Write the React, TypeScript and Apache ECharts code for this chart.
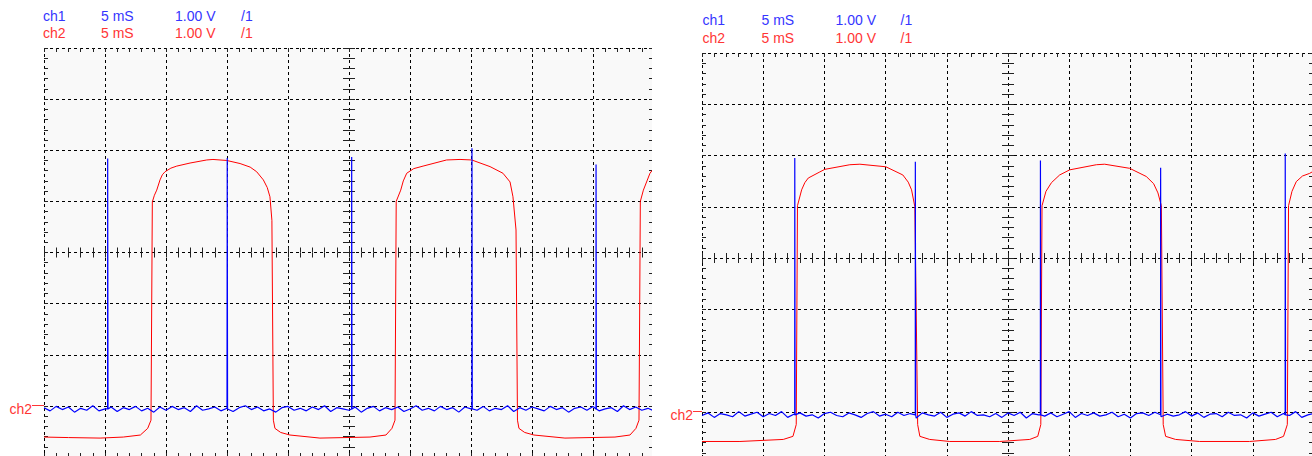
import React, { useEffect, useRef } from 'react';
import * as echarts from 'echarts';

// Header texts (channel, time base, volts/div, probe)
const HEADER_CH1 = ['ch1', '5 mS', '1.00 V', '/1'];
const HEADER_CH2 = ['ch2', '5 mS', '1.00 V', '/1'];
const MARKER_LABEL = 'ch2';

// Axis ranges: time in ms (10 div x 5 ms), volts (8 div x 1 V)
const T_MIN = 0;
const T_MAX = 50;
const T_DIV = 5;
const V_MIN = -4;
const V_MAX = 4;
const V_DIV = 1;

// ch2 (red) traces: [ms, V]
const LEFT_RED: number[][] = [
  [0, -3.61], [2, -3.62], [4.6, -3.63], [6.5, -3.61], [7.9, -3.57], [8.5, -3.44], [8.77, -3.28],
  [8.88, 0.99], [9.05, 1.12], [9.24, 1.22], [9.51, 1.42], [9.7, 1.52], [9.92, 1.58], [10.4, 1.65],
  [10.88, 1.69], [11.97, 1.75], [13.34, 1.81], [13.85, 1.82], [14.98, 1.8], [16.07, 1.74],
  [16.9, 1.67], [17.43, 1.58], [17.98, 1.42], [18.3, 1.27], [18.52, 1.09], [18.68, 0.63],
  [18.8, -3.28], [18.93, -3.44], [19.4, -3.52], [20.16, -3.57], [22.62, -3.63],
  [26.72, -3.61], [28.03, -3.57], [28.52, -3.44], [28.77, -3.28], [28.87, 1.0], [29.24, 1.22],
  [29.45, 1.4], [29.73, 1.55], [30.3, 1.64], [31.07, 1.69], [33.0, 1.81], [34.1, 1.82],
  [35.06, 1.81], [36.56, 1.68], [37.62, 1.55], [38.2, 1.38], [38.44, 1.09], [38.69, 0.44],
  [38.81, -3.28], [38.93, -3.44], [39.4, -3.52], [40.16, -3.57], [42.7, -3.63], [46.8, -3.61],
  [48.03, -3.57], [48.52, -3.44], [48.77, -3.28], [48.88, 1.0], [49.13, 1.22], [49.67, 1.55],
  [50, 1.65],
];
const RIGHT_RED: number[][] = [
  [0, -3.58], [3.1, -3.58], [6.64, -3.54], [7.43, -3.48], [7.7, -3.25], [7.8, 1.02], [8.14, 1.33],
  [8.4, 1.47], [8.68, 1.56], [9.63, 1.68], [10.04, 1.73], [12.08, 1.82], [12.9, 1.83],
  [15.02, 1.78], [16.41, 1.62], [16.85, 1.48], [17.12, 1.33], [17.39, 1.0], [17.62, -3.25],
  [17.8, -3.48], [18.6, -3.54], [20.24, -3.58], [24.33, -3.58], [26.78, -3.54], [27.43, -3.48],
  [27.68, -3.25], [27.78, 1.02], [28.1, 1.3], [28.55, 1.47], [29.22, 1.62], [30.04, 1.72],
  [32.22, 1.82], [32.9, 1.83], [34.94, 1.75], [36.3, 1.59], [36.9, 1.45], [37.25, 1.27],
  [37.53, 1.02], [37.68, -3.25], [37.88, -3.48], [38.69, -3.54], [40.65, -3.58], [44.73, -3.58],
  [46.86, -3.54], [47.51, -3.48], [47.82, -3.25], [47.92, 1.02], [48.2, 1.3], [48.55, 1.49],
  [49.06, 1.6], [49.63, 1.65], [50, 1.7],
];

// ch1 (blue): baseline level, noise (0.01 div units, every 0.5 ms), spikes
const BLUE_BASE = -3.06;
const NOISE_STEP = 0.5;
const LEFT_NOISE = [
  2, -3, 4, -1, 3, -5, 1, -2, 5, -3,
  0, 3, -4, 2, -1, 4, -3, 1, -5, 3,
  -2, 4, -1, 2, -4, 5, -2, 0, 3, -3,
  1, -4, 2, 5, -1, 3, -3, 0, -5, 2,
  4, -2, 1, -3, 3, -1, 5, -4, 2, 0,
  -2, 3, -5, 1, 4, -3, 2, -1, 3, -4,
  0, 5, -2, 1, -3, 4, -1, 2, -5, 3,
  0, -2, 4, -3, 1, -1, 5, -4, 2, -2,
  3, 0, -3, 4, -1, 2, -5, 1, 3, -2,
  4, -3, 0, 2, -4, 5, -1, 3, -2, 1,
  -3,
];
const RIGHT_NOISE = [
  -1, 3, -4, 2, 0, -3, 5, -2, 1, 4,
  -3, 2, -1, 5, -4, 1, 3, -2, 0, -5,
  2, 4, -1, -3, 3, 0, -4, 2, 5, -2,
  1, -3, 4, -1, 2, -5, 3, 0, -2, 4,
  -4, 1, 3, -2, 5, -1, 0, -3, 2, -4,
  3, -1, 4, -5, 2, 0, -2, 3, -3, 1,
  5, -4, 2, -1, 3, -2, 0, 4, -3, 1,
  -5, 2, 3, -1, 4, -3, 1, -2, 0, 5,
  -2, 3, -4, 1, 2, -3, 4, -1, 0, -5,
  3, -2, 1, 4, -3, 2, -1, 5, -4, 0,
  2,
];
const LEFT_SPIKE_T = [5.22, 15.02, 25.22, 35.08, 45.25];
const LEFT_SPIKE_TOP = [1.84, 1.85, 1.87, 2.04, 1.72];
const RIGHT_SPIKE_T = [7.58, 17.43, 27.65, 37.47, 47.65];
const RIGHT_SPIKE_TOP = [1.95, 1.88, 1.9, 1.76, 2.04];

function blueTrace(noise: number[], spikeT: number[], spikeTop: number[]) {
  const pts: number[][] = noise.map((n, i) => [i * NOISE_STEP, BLUE_BASE + n / 80]);
  spikeT.forEach((t, k) => {
    pts.push([t - 0.005, BLUE_BASE], [t, spikeTop[k]], [t + 0.02, spikeTop[k]], [t + 0.025, BLUE_BASE]);
  });
  pts.sort((a, b) => a[0] - b[0]);
  return pts;
}

const RED = '#ff0000';
const BLUE = '#0000ff';
const TEXT_BLUE = '#3535ff';
const TEXT_RED = '#ff3535';
const FONT = '"Liberation Sans", Arial, sans-serif';
const TICK = { color: '#222', width: 1 };
const GRID_LINE = { color: '#000', width: 1, type: [3, 3] as number[] };

const PANELS = [
  { left: 44, top: 48, width: 610, height: 409 },
  { left: 702, top: 53, width: 612, height: 410 },
];

function xAxesFor(g: number, H: number) {
  const base = {
    gridIndex: g, type: 'value', min: T_MIN, max: T_MAX, interval: T_DIV,
    axisLabel: { show: false }, axisLine: { show: false, onZero: false },
    splitLine: { show: false },
  };
  return [
    { ...base, position: 'bottom', axisTick: { show: true, inside: true, length: 4, lineStyle: TICK },
      minorTick: { show: true, splitNumber: 5, length: 4, lineStyle: TICK },
      splitLine: { show: true, lineStyle: GRID_LINE } },
    { ...base, position: 'top', axisTick: { show: true, inside: true, length: 4, lineStyle: TICK },
      minorTick: { show: true, splitNumber: 5, length: 4, lineStyle: TICK } },
    { ...base, position: 'bottom', offset: -H / 2, axisTick: { show: true, inside: false, length: 5, lineStyle: TICK },
      minorTick: { show: true, splitNumber: 5, length: 5, lineStyle: TICK } },
    { ...base, position: 'bottom', offset: -H / 2, axisTick: { show: true, inside: true, length: 5, lineStyle: TICK },
      minorTick: { show: true, splitNumber: 5, length: 5, lineStyle: TICK } },
  ];
}

function yAxesFor(g: number, W: number) {
  const base = {
    gridIndex: g, type: 'value', min: V_MIN, max: V_MAX, interval: V_DIV,
    axisLabel: { show: false }, axisLine: { show: false, onZero: false },
    splitLine: { show: false },
  };
  return [
    { ...base, position: 'left', axisTick: { show: true, inside: true, length: 4, lineStyle: TICK },
      minorTick: { show: true, splitNumber: 5, length: 4, lineStyle: TICK },
      splitLine: { show: true, lineStyle: GRID_LINE } },
    { ...base, position: 'right', axisTick: { show: true, inside: true, length: 5, lineStyle: TICK },
      minorTick: { show: true, splitNumber: 5, length: 5, lineStyle: TICK } },
    { ...base, position: 'left', offset: -W / 2, axisTick: { show: true, inside: false, length: 6, lineStyle: TICK },
      minorTick: { show: true, splitNumber: 5, length: 6, lineStyle: TICK } },
    { ...base, position: 'left', offset: -W / 2, axisTick: { show: true, inside: true, length: 6, lineStyle: TICK },
      minorTick: { show: true, splitNumber: 5, length: 6, lineStyle: TICK } },
  ];
}

function headerTexts(x: number[], y1: number, y2: number) {
  const out: any[] = [];
  HEADER_CH1.forEach((t, i) => out.push({
    type: 'text', x: x[i], y: y1, z: 20,
    style: { text: t, fill: TEXT_BLUE, fontSize: 14, fontFamily: FONT, verticalAlign: 'middle', align: 'left' },
  }));
  HEADER_CH2.forEach((t, i) => out.push({
    type: 'text', x: x[i], y: y2, z: 20,
    style: { text: t, fill: TEXT_RED, fontSize: 14, fontFamily: FONT, verticalAlign: 'middle', align: 'left' },
  }));
  return out;
}

function marker(xText: number, xAxisEdge: number, yLine: number) {
  return [
    { type: 'text', x: xText, y: yLine + 3, z: 21,
      style: { text: MARKER_LABEL, fill: TEXT_RED, fontSize: 14, fontFamily: FONT, verticalAlign: 'middle', align: 'right' } },
    { type: 'line', z: 21, shape: { x1: xText, y1: yLine, x2: xAxisEdge, y2: yLine }, style: { stroke: TEXT_RED, lineWidth: 1 } },
  ];
}

export default function App() {
  const ref = useRef<HTMLDivElement>(null);
  useEffect(() => {
    if (!ref.current) return;
    const chart = echarts.init(ref.current, undefined, { renderer: 'svg' });
    const series: any[] = [];
    const reds = [LEFT_RED, RIGHT_RED];
    const blues = [
      blueTrace(LEFT_NOISE, LEFT_SPIKE_T, LEFT_SPIKE_TOP),
      blueTrace(RIGHT_NOISE, RIGHT_SPIKE_T, RIGHT_SPIKE_TOP),
    ];
    [0, 1].forEach((g) => {
      series.push({
        type: 'line', xAxisIndex: g * 4, yAxisIndex: g * 4, data: reds[g], showSymbol: false,
        symbol: 'none', lineStyle: { color: RED, width: 1 }, z: 3, silent: true,
      });
      series.push({
        type: 'line', xAxisIndex: g * 4, yAxisIndex: g * 4, data: blues[g], showSymbol: false,
        symbol: 'none', lineStyle: { color: BLUE, width: 1.2 }, z: 4, silent: true,
      });
    });
    chart.setOption({
      animation: false,
      backgroundColor: '#ffffff',
      grid: PANELS.map((p) => ({
        left: p.left, top: p.top, width: p.width, height: p.height,
        outerBoundsMode: 'none', containLabel: false,
        show: true, backgroundColor: '#f9f9f9', borderWidth: 0,
      })),
      xAxis: [...xAxesFor(0, PANELS[0].height), ...xAxesFor(1, PANELS[1].height)],
      yAxis: [...yAxesFor(0, PANELS[0].width), ...yAxesFor(1, PANELS[1].width)],
      series,
      graphic: [
        { type: 'rect', z: 15, shape: { x: 652, y: 0, width: 49.5, height: 456 }, style: { fill: '#ffffff' } },
        ...headerTexts([43, 101, 175, 241], 16, 33),
        ...headerTexts([702.5, 761.5, 835.5, 900.5], 20, 38),
        ...marker(32, 44, 405.5),
        ...marker(693, 702, 411.5),
      ],
    });
    return () => chart.dispose();
  }, []);
  return <div ref={ref} style={{ position: 'fixed', left: 0, top: 0, width: 1312, height: 456 }} />;
}
